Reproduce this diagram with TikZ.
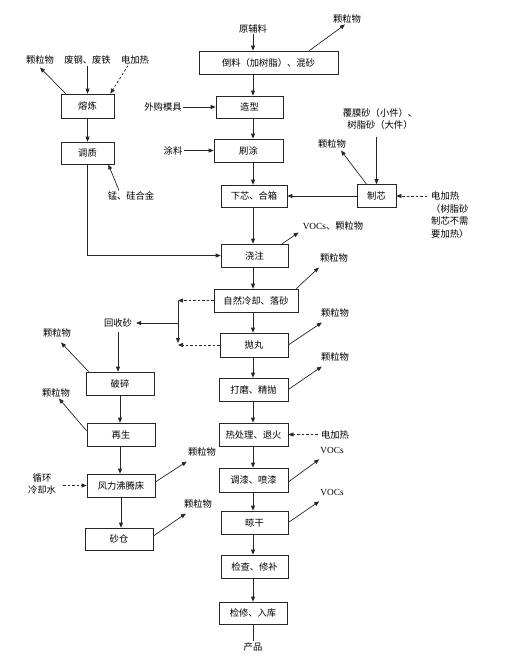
\documentclass[tikz,border=0pt]{standalone}
\usepackage{fontspec}
\setmainfont{Liberation Serif}
\newfontfamily\cjk{Noto Sans CJK SC}
\usetikzlibrary{arrows.meta,calc}
\begin{document}
\begin{tikzpicture}[x=1pt,y=-1pt,
  box/.style={draw=black!85,line width=0.7pt,minimum height=23pt,inner sep=0pt,font=\cjk\fontsize{9.3}{11}\selectfont},
  lab/.style={inner sep=1pt,font=\cjk\fontsize{9.3}{12.5}\selectfont},
  arr/.style={draw=black!85,line width=0.7pt,-{Triangle[length=5pt,width=4pt]}},
  dsh/.style={arr,dash pattern=on 2.5pt off 2pt},
  ln/.style={draw=black!85,line width=0.7pt}]
\useasboundingbox (0,0) rectangle (514,662);
\coordinate (colx) at (253,0);
% main column boxes
\node[box,minimum width=139pt] (mix) at (268.5,62.5) {倒料（加树脂）、混砂};
\node[box,minimum width=67pt,minimum height=22pt] (zaoxing) at (249.5,107) {造型};
\node[box,minimum width=69pt] (shua) at (248.5,150.5) {刷涂};
\node[box,minimum width=66pt,minimum height=22pt] (xiaxin) at (254,196) {下芯、合箱};
\node[box,minimum width=39pt] (zhixin) at (376.5,196) {制芯};
\node[box,minimum width=67pt] (jiaozhu) at (254.5,255.5) {浇注};
\node[box,minimum width=84pt] (lengque) at (256,300.5) {自然冷却、落砂};
\node[box,minimum width=68pt,minimum height=24pt] (paowan) at (254,345) {抛丸};
\node[box,minimum width=69pt] (damo) at (253.5,389.5) {打磨、精抛};
\node[box,minimum width=69pt] (rechuli) at (253.5,434.5) {热处理、退火};
\node[box,minimum width=69pt,minimum height=24pt] (tiaoqi) at (253.5,480) {调漆、喷漆};
\node[box,minimum width=67pt] (liang) at (254.5,522.5) {晾干};
\node[box,minimum width=67pt] (jiancha) at (254.5,566.5) {检查、修补};
\node[box,minimum width=68pt,minimum height=22pt] (jianxiu) at (253,613) {检修、入库};
% left boxes
\node[box,minimum width=53pt,minimum height=24pt] (ronglian) at (87.5,106) {熔炼};
\node[box,minimum width=53pt,minimum height=22pt] (tiaozhi) at (87.5,153) {调质};
\node[box,minimum width=68pt] (posui) at (120,383.5) {破碎};
\node[box,minimum width=68pt] (zaisheng) at (121,434.5) {再生};
\node[box,minimum width=68pt] (fengli) at (121,485.5) {风力沸腾床};
\node[box,minimum width=68pt,minimum height=22pt] (shacang) at (119,539) {砂仓};
% labels
\node[lab] (yfl) at (253,29) {原辅料};
\node[lab] (klA) at (347,19) {颗粒物};
\node[lab] (wg) at (163,107) {外购模具};
\node[lab] (tl) at (173,150.5) {涂料};
\node[lab] (klL) at (40,60) {颗粒物};
\node[lab] (fg) at (87.5,60) {废钢、废铁};
\node[lab] (dj1) at (135,60) {电加热};
\node[lab] (mg) at (131,196) {锰、硅合金};
\node[lab,align=center] (fm) at (380,119) {覆膜砂（小件）、\\树脂砂（大件）};
\node[lab] (klZ) at (332,144) {颗粒物};
\node[lab,align=left,anchor=west] (dj2) at (430,215) {电加热\\（树脂砂\\制芯不需\\要加热）};
\node[lab] (vk) at (333,226) {{\rmfamily VOCs}、颗粒物};
\node[lab] (klB) at (334,258) {颗粒物};
\node[lab] (klC) at (335,313) {颗粒物};
\node[lab] (klD) at (335,357) {颗粒物};
\node[lab] (dj3) at (335,434.5) {电加热};
\node[lab] (vA) at (332,450) {\rmfamily VOCs};
\node[lab] (vB) at (332,492) {\rmfamily VOCs};
\node[lab] (cp) at (253,647) {产品};
\node[lab] (hs) at (118,323) {回收砂};
\node[lab] (klE) at (57,333) {颗粒物};
\node[lab] (klF) at (56,393) {颗粒物};
\node[lab,align=center] (xh) at (42,484) {循环\\冷却水};
\node[lab] (klG) at (202,452) {颗粒物};
\node[lab] (klH) at (198,504) {颗粒物};
\coordinate (jA) at (178,300.5);
\coordinate (jB) at (178,345);
\coordinate (jBv) at (178,343);
\coordinate (jC) at (178,323);
% main column arrows
\draw[arr] (yfl.south) -- (yfl.south |- mix.north);
\draw[arr] (mix.south -| colx) -- (zaoxing.north -| colx);
\draw[arr] (zaoxing.south -| colx) -- (shua.north -| colx);
\draw[arr] (shua.south -| colx) -- (xiaxin.north -| colx);
\draw[arr] (xiaxin.south -| colx) -- (jiaozhu.north -| colx);
\draw[arr] (jiaozhu.south -| colx) -- (lengque.north -| colx);
\draw[arr] (lengque.south -| colx) -- (paowan.north -| colx);
\draw[arr] (paowan.south -| colx) -- (damo.north -| colx);
\draw[arr] (damo.south -| colx) -- (rechuli.north -| colx);
\draw[arr] (rechuli.south -| colx) -- (tiaoqi.north -| colx);
\draw[arr] (tiaoqi.south -| colx) -- (liang.north -| colx);
\draw[arr] (liang.south -| colx) -- (jiancha.north -| colx);
\draw[arr] (jiancha.south -| colx) -- (jianxiu.north -| colx);
\draw[ln] (jianxiu.south -| colx) -- (cp.north -| colx);
% side inputs
\draw[arr] ([xshift=-29pt]mix.north east) -- ([xshift=-2pt]klA.south);
\draw[arr] (wg.east) -- (zaoxing.west);
\draw[arr] (tl.east) -- (shua.west);
\draw[arr] ([xshift=5pt]ronglian.north west) -- ([yshift=-2pt]klL.south);
\draw[arr] (fg.south) -- (fg.south |- ronglian.north);
\draw[dsh] ([xshift=-7pt]dj1.south) -- ([xshift=-4pt]ronglian.north east);
\draw[arr] (ronglian) -- (tiaozhi);
\draw[arr] ([xshift=-12pt]mg.north) -- ([xshift=-6pt]tiaozhi.south east);
\draw[arr] (tiaozhi.south) |- (jiaozhu.west);
\draw[arr] ([yshift=-6pt]fm.south -| zhixin.north) -- (zhixin.north);
\draw[arr] ([xshift=-10pt]zhixin.north) -- ([xshift=9pt,yshift=-1pt]klZ.south);
\draw[arr] (zhixin.west) -- (xiaxin.east);
\draw[dsh] ($(dj2.west |- zhixin.east)+(-3,0)$) -- (zhixin.east);
\draw[arr] ([xshift=-6pt]jiaozhu.north east) -- ([xshift=-3pt,yshift=-1pt]vk.south west);
\draw[arr] ([xshift=-2pt]lengque.north east) -- ([yshift=-4pt]klB.south west);
\draw[arr] (paowan.east) -- ([yshift=-4pt,xshift=2pt]klC.south west);
\draw[arr] (damo.east) -- ([yshift=-4pt,xshift=2pt]klD.south west);
\draw[dsh] ($(dj3.west)+(-2,0)$) -- (dj3.west -| rechuli.east);
\draw[arr] ([yshift=-2pt]tiaoqi.east) -- ([yshift=-5pt]vA.south west);
\draw[arr] (liang.east) -- ([yshift=-5pt]vB.south west);
% recycling branch
\draw[dsh] (lengque.west) -- (jA);
\draw[arr] (jA) -- (jBv);
\draw[dsh] (paowan.west) -- (jB);
\draw[arr] (jC) -- ($(hs.east)+(3,0)$);
\draw[arr] ($(hs.south)+(0,4)$) -- (hs.south |- posui.north);
\draw[arr] ([xshift=3pt]posui.north west) -- ([xshift=4pt,yshift=-4pt]klE.south);
\draw[arr] (posui.south) -- (posui.south |- zaisheng.north);
\draw[arr] ([yshift=3.5pt]zaisheng.west) -- ([xshift=3pt]klF.south);
\draw[arr] (zaisheng.south -| posui.south) -- (fengli.north -| posui.south);
\draw[dsh] ($(xh.east |- fengli.west)+(6,0)$) -- (fengli.west);
\draw[arr] ([yshift=3.5pt]fengli.east) -- ([yshift=-4pt]klG.south west);
\draw[arr] (fengli.south) -- (fengli.south |- shacang.north);
\draw[arr] ([yshift=3pt]shacang.east) -- ([yshift=-4pt,xshift=3pt]klH.south west);
\end{tikzpicture}
\end{document}
